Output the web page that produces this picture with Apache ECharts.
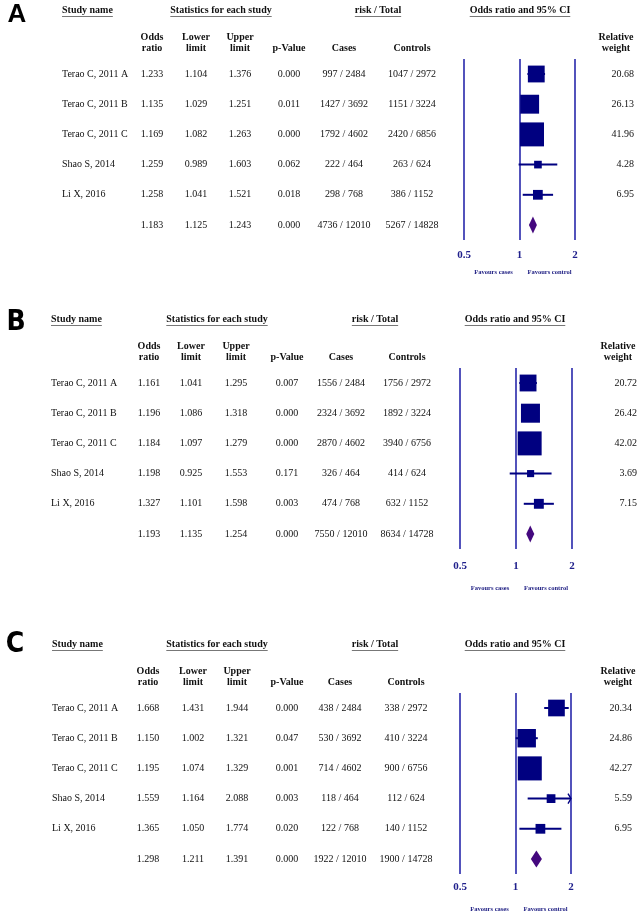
<!DOCTYPE html>
<html><head><meta charset="utf-8">
<script src="https://cdn.jsdelivr.net/npm/echarts@6/dist/echarts.min.js"></script>
<style>html,body{margin:0;padding:0;background:#fff}#c{width:640px;height:919px}</style>
</head><body><div id="c"></div>
<script>
// ---------- DATA ----------
const studies = ["Terao C, 2011 A", "Terao C, 2011 B", "Terao C, 2011 C", "Shao S, 2014", "Li X, 2016", ""];
const tickValues = [0.5, 1, 2];

const A_or = [1.233, 1.135, 1.169, 1.259, 1.258, 1.183];
const A_lo = [1.104, 1.029, 1.082, 0.989, 1.041, 1.125];
const A_hi = [1.376, 1.251, 1.263, 1.603, 1.521, 1.243];
const A_p = [0.000, 0.011, 0.000, 0.062, 0.018, 0.000];
const A_cases = ["997 / 2484", "1427 / 3692", "1792 / 4602", "222 / 464", "298 / 768", "4736 / 12010"];
const A_controls = ["1047 / 2972", "1151 / 3224", "2420 / 6856", "263 / 624", "386 / 1152", "5267 / 14828"];
const A_weight = [20.68, 26.13, 41.96, 4.28, 6.95];

const B_or = [1.161, 1.196, 1.184, 1.198, 1.327, 1.193];
const B_lo = [1.041, 1.086, 1.097, 0.925, 1.101, 1.135];
const B_hi = [1.295, 1.318, 1.279, 1.553, 1.598, 1.254];
const B_p = [0.007, 0.000, 0.000, 0.171, 0.003, 0.000];
const B_cases = ["1556 / 2484", "2324 / 3692", "2870 / 4602", "326 / 464", "474 / 768", "7550 / 12010"];
const B_controls = ["1756 / 2972", "1892 / 3224", "3940 / 6756", "414 / 624", "632 / 1152", "8634 / 14728"];
const B_weight = [20.72, 26.42, 42.02, 3.69, 7.15];

const C_or = [1.668, 1.150, 1.195, 1.559, 1.365, 1.298];
const C_lo = [1.431, 1.002, 1.074, 1.164, 1.050, 1.211];
const C_hi = [1.944, 1.321, 1.329, 2.088, 1.774, 1.391];
const C_p = [0.000, 0.047, 0.001, 0.003, 0.020, 0.000];
const C_cases = ["438 / 2484", "530 / 3692", "714 / 4602", "118 / 464", "122 / 768", "1922 / 12010"];
const C_controls = ["338 / 2972", "410 / 3224", "900 / 6756", "112 / 624", "140 / 1152", "1900 / 14728"];
const C_weight = [20.34, 24.86, 42.27, 5.59, 6.95];

// ---------- LAYOUT ----------
const panels = [
  { letter: "A", letterFont: 'bold 26px "Liberation Sans", Arial, sans-serif', lx: 17, ly: 15,
    or: A_or, lo: A_lo, hi: A_hi, p: A_p, cases: A_cases, controls: A_controls, weight: A_weight,
    row1: 74, gridLeft: 464, gridWidth: 111, labelMargin: 10, favY: 272,
    col: { name: 62, or: 152, lo: 196, hi: 240, p: 289, cases: 344, controls: 412, wRight: 634, rel: 616,
           hStats: 221, hRisk: 378, hCI: 520 } },
  { letter: "B", letterFont: 'bold 28px "DejaVu Sans Condensed", Lato, sans-serif', lx: 16, ly: 323,
    or: B_or, lo: B_lo, hi: B_hi, p: B_p, cases: B_cases, controls: B_controls, weight: B_weight,
    row1: 383, gridLeft: 460, gridWidth: 112, labelMargin: 12, favY: 588,
    col: { name: 51, or: 149, lo: 191, hi: 236, p: 287, cases: 341, controls: 407, wRight: 637, rel: 618,
           hStats: 217, hRisk: 375, hCI: 515 } },
  { letter: "C", letterFont: 'bold 28px "DejaVu Sans Condensed", Lato, sans-serif', lx: 15, ly: 645,
    or: C_or, lo: C_lo, hi: C_hi, p: C_p, cases: C_cases, controls: C_controls, weight: C_weight,
    row1: 708, gridLeft: 460, gridWidth: 111, labelMargin: 8, favY: 909,
    col: { name: 52, or: 148, lo: 193, hi: 237, p: 287, cases: 340, controls: 406, wRight: 632, rel: 618,
           hStats: 217, hRisk: 375, hCI: 515 } }
];
const ROW_H = 30.2;
const SERIF = '"Liberation Serif", "Times New Roman", serif';
const F_BODY = '10px ' + SERIF;
const F_HEAD = 'bold 10px ' + SERIF;
const NAVY = '#000080';
const LINE_BLUE = '#3434b0';

const measure = (() => { const cv = document.createElement('canvas').getContext('2d');
  return (txt, font) => { cv.font = font; return cv.measureText(txt).width; }; })();

function txt(x, y, s, font, align, fill) {
  return { type: 'text', x: x, y: y, silent: true,
    style: { text: s, font: font, align: align || 'center', verticalAlign: 'middle', fill: fill || '#111' } };
}
function uline(x1, x2, y) {
  return { type: 'line', silent: true, shape: { x1: x1, y1: y, x2: x2, y2: y }, style: { stroke: '#777', lineWidth: 1 } };
}

const graphics = [];
const grids = [], xAxes = [], yAxes = [], series = [];

panels.forEach((P, k) => {
  const c = P.col;
  const hy = P.row1 - 64, s1 = P.row1 - 37, s2 = P.row1 - 26;
  graphics.push({ type: 'text', x: P.lx, y: P.ly, silent: true,
    style: { text: P.letter, font: P.letterFont, align: 'center', verticalAlign: 'middle', fill: '#000' } });
  const heads = [["Study name", c.name, 'left'], ["Statistics for each study", c.hStats, 'center'],
                 ["risk / Total", c.hRisk, 'center'], ["Odds ratio and 95% CI", c.hCI, 'center']];
  heads.forEach(h => {
    graphics.push(txt(h[1], hy, h[0], F_HEAD, h[2], '#111'));
    const w = measure(h[0], F_HEAD);
    const x0 = h[2] === 'left' ? h[1] : h[1] - w / 2;
    graphics.push(uline(x0, x0 + w, hy + 6.5));
  });
  [["Odds", c.or, s1], ["ratio", c.or, s2], ["Lower", c.lo, s1], ["limit", c.lo, s2],
   ["Upper", c.hi, s1], ["limit", c.hi, s2], ["p-Value", c.p, s2], ["Cases", c.cases, s2],
   ["Controls", c.controls, s2], ["Relative", c.rel, s1], ["weight", c.rel, s2]]
    .forEach(h => graphics.push(txt(h[1], h[2], h[0], F_HEAD, 'center', '#111')));
  for (let i = 0; i < 6; i++) {
    const y = P.row1 + i * ROW_H;
    if (studies[i]) graphics.push(txt(c.name, y, studies[i], F_BODY, 'left'));
    graphics.push(txt(c.or, y, P.or[i].toFixed(3), F_BODY));
    graphics.push(txt(c.lo, y, P.lo[i].toFixed(3), F_BODY));
    graphics.push(txt(c.hi, y, P.hi[i].toFixed(3), F_BODY));
    graphics.push(txt(c.p, y, P.p[i].toFixed(3), F_BODY));
    graphics.push(txt(c.cases, y, P.cases[i], F_BODY));
    graphics.push(txt(c.controls, y, P.controls[i], F_BODY));
    if (i < 5) graphics.push(txt(c.wRight, y, P.weight[i].toFixed(2), F_BODY, 'right'));
  }
  const x1 = P.gridLeft + P.gridWidth / 2;
  graphics.push(txt(x1 - 26, P.favY, "Favours cases", 'bold 6.5px ' + SERIF, 'center', '#1a1a80'));
  graphics.push(txt(x1 + 30, P.favY, "Favours control", 'bold 6.5px ' + SERIF, 'center', '#1a1a80'));

  grids.push({ left: P.gridLeft, width: P.gridWidth, top: P.row1 - ROW_H / 2, height: ROW_H * 6 });
  xAxes.push({ gridIndex: k, type: 'log', logBase: 2, min: tickValues[0], max: tickValues[2], interval: 1,
    axisLine: { show: false }, axisTick: { show: false },
    axisLabel: { show: true, margin: P.labelMargin, fontFamily: SERIF, fontWeight: 'bold', fontSize: 11,
      color: '#20208c', formatter: v => String(+v.toFixed(3)), showMinLabel: true, showMaxLabel: true },
    splitLine: { show: true, showMinLine: true, showMaxLine: true, lineStyle: { color: LINE_BLUE, width: 1.7 } } });
  yAxes.push({ gridIndex: k, type: 'value', min: -0.5, max: 5.5, inverse: true, show: false });
  const data = [];
  for (let i = 0; i < 6; i++) data.push([i, P.or[i], P.lo[i], P.hi[i], i < 5 ? P.weight[i] : 0, i < 5 ? 0 : 1]);
  series.push({ type: 'custom', xAxisIndex: k, yAxisIndex: k, encode: { x: 1, y: 0 }, clip: false, silent: true,
    data: data, renderItem: (params, api) => {
      const row = api.value(0), orv = api.value(1), lo = api.value(2), hi = api.value(3), w = api.value(4), kind = api.value(5);
      const xMin = tickValues[0], xMax = tickValues[2];
      const pc = api.coord([orv, row]);
      const pl = api.coord([Math.max(lo, xMin), row]);
      const ph = api.coord([Math.min(hi, xMax), row]);
      if (kind === 1) {
        return { type: 'polygon', shape: { points: [[pl[0], pc[1]], [pc[0], pc[1] - 8.5], [ph[0], pc[1]], [pc[0], pc[1] + 8.5]] },
          style: { fill: '#44087e' } };
      }
      const s = 3.7 * Math.sqrt(w);
      const ch = [
        { type: 'line', shape: { x1: pl[0], y1: pc[1], x2: ph[0], y2: pc[1] }, style: { stroke: NAVY, lineWidth: 2 } },
        { type: 'rect', shape: { x: pc[0] - s / 2, y: pc[1] - s / 2, width: s, height: s }, style: { fill: NAVY } }
      ];
      if (hi > xMax) ch.push({ type: 'polyline', shape: { points: [[ph[0] - 3, pc[1] - 5], [ph[0], pc[1]], [ph[0] - 3, pc[1] + 5]] },
        style: { stroke: NAVY, fill: null, lineWidth: 1.4 } });
      return { type: 'group', children: ch };
    } });
});

const chart = echarts.init(document.getElementById('c'), null, { renderer: 'canvas' });
chart.setOption({
  backgroundColor: '#fff', animation: false,
  grid: grids, xAxis: xAxes, yAxis: yAxes, series: series, graphic: graphics
});
</script></body></html>
